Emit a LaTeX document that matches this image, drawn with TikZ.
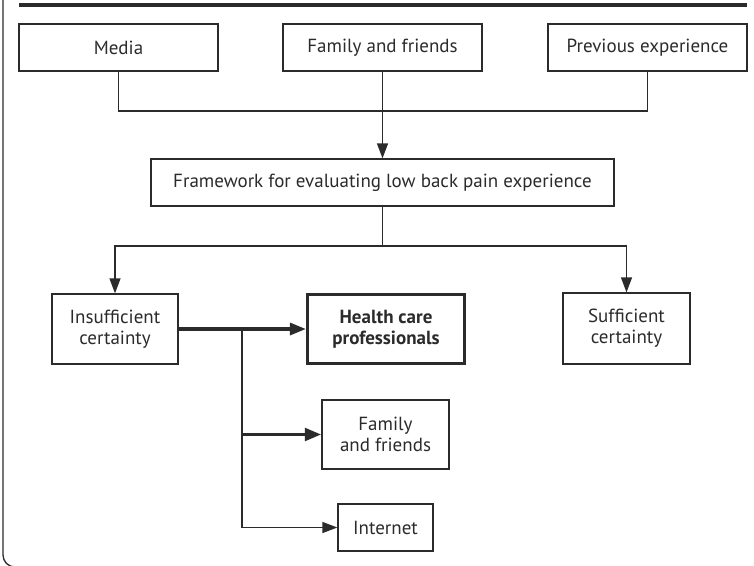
\documentclass[tikz,border=0pt]{standalone}
\usepackage{fontspec}
\setmainfont{PT Sans}
\usetikzlibrary{arrows.meta,calc}
\definecolor{ink}{HTML}{2B2B2B}

\tikzset{
  box/.style={draw=ink, line width=1.3pt, inner sep=0pt, text=ink,
    align=center, font=\fontsize{19}{21}\selectfont},
  link/.style={draw=ink, line width=1.3pt},
  linkarrow/.style={link, -{Triangle[length=15pt,width=11pt]}},
  midarrow/.style={draw=ink, line width=2.2pt, -{Triangle[length=16pt,width=13pt]}},
  thickarrow/.style={draw=ink, line width=3.2pt, -{Triangle[length=16pt,width=12pt]}}
}

\begin{document}
\begin{tikzpicture}[x=1pt,y=-1pt]
\clip (0,0) rectangle (754,565);
\draw[ink, line width=4pt] (19,5) -- (747,5);
\draw[link, rounded corners=12pt] (3,-5) -- (3,567) -- (60,567);

\node[box, minimum width=199pt, minimum height=47pt] (media)    at (118.5,47.5) {Media};
\node[box, minimum width=199pt, minimum height=47pt] (famtop)   at (382.5,47.5) {Family and friends};
\node[box, minimum width=199pt, minimum height=47pt] (prevexp)  at (647.5,47.5) {Previous experience};
\node[box, minimum width=463pt, minimum height=47pt] (frame)    at (382.5,182.5) {Framework for evaluating low back pain experience};
\node[box, minimum width=126pt, minimum height=70pt] (insuff)   at (115,329) {Insufficient\\certainty};
\node[box, minimum width=157pt, minimum height=69pt, line width=3.2pt, font=\fontsize{19}{21}\selectfont\bfseries] (health) at (386,329) {Health care\\professionals};
\node[box, minimum width=127pt, minimum height=71pt] (suff)     at (626.5,328.5) {Sufficient\\certainty};
\node[box, minimum width=127pt, minimum height=69pt, line width=2.2pt] (famlow) at (385.5,434.5) {Family\\and friends};
\node[box, minimum width=95pt, minimum height=47pt] (internet)  at (385.5,527.5) {Internet};

\coordinate (join) at (382.5,111);
\coordinate (split) at (382.5,246);
\coordinate (fork) at (242,329);

\draw[link] (media.south) |- (join) -| (prevexp.south);
\draw[linkarrow] (famtop.south) -- (frame.north);
\draw[link] (frame.south) -- (split);
\draw[linkarrow] (split) -| (insuff.north);
\draw[linkarrow] (split) -| (suff.north);
\draw[thickarrow] (insuff.east) -- (health.west);
\draw[linkarrow] (fork) |- (internet.west);
\draw[midarrow] (fork |- famlow.west) -- (famlow.west);
\end{tikzpicture}
\end{document}
